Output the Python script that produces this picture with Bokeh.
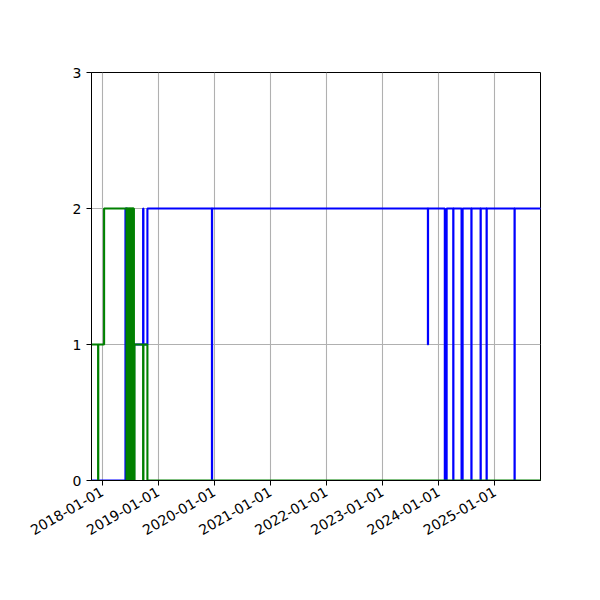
import math
from datetime import datetime
import pandas as pd
from bokeh.plotting import figure
from bokeh.models import Range1d, FixedTicker, DatetimeTickFormatter
from bokeh.embed import file_html
from bokeh.resources import INLINE

# ---- data ----
green_dates = ["2017-10-01", "2017-12-06", "2017-12-07", "2018-01-14",
               "2018-06-09", "2018-06-11", "2018-06-13", "2018-06-15", "2018-06-17",
               "2018-06-19", "2018-06-21", "2018-06-23", "2018-06-25", "2018-06-27",
               "2018-06-29", "2018-07-01", "2018-07-03", "2018-07-05", "2018-07-07",
               "2018-07-09", "2018-07-11", "2018-07-13", "2018-07-15", "2018-07-17",
               "2018-07-19", "2018-07-21", "2018-07-23", "2018-07-25", "2018-07-27",
               "2018-07-31", "2018-09-25", "2018-09-27",
               "2018-10-23", "2025-12-01"]
green_values = [1, 0, 1, 2,
                0, 2, 0, 2, 0,
                2, 0, 2, 0, 2,
                0, 2, 0, 2, 0,
                2, 0, 2, 0, 2,
                0, 2, 0, 2, 0,
                1, 0, 1,
                0, 0]

blue_dates = ["2017-10-01", "2018-06-02", "2018-06-12", "2018-07-28", "2018-09-25",
              "2018-09-27", "2018-10-23", "2019-12-17", "2019-12-18", "2023-10-23",
              "2023-10-24", "2024-02-10", "2024-02-22", "2024-04-05", "2024-04-06",
              "2024-05-29", "2024-06-05", "2024-08-01", "2024-08-02", "2024-09-30",
              "2024-10-01", "2024-11-08", "2024-11-09", "2025-05-09", "2025-05-10",
              "2025-12-01"]
blue_values = [0, 2, 0, 1, 2,
               1, 2, 0, 2, 1,
               2, 0, 2, 0, 2,
               0, 2, 0, 2, 0,
               2, 0, 2, 0, 2,
               2]

tick_labels = ["2018-01-01", "2019-01-01", "2020-01-01", "2021-01-01",
               "2022-01-01", "2023-01-01", "2024-01-01", "2025-01-01"]
y_ticks = [0, 1, 2, 3]
x_start, x_end = "2017-10-24", "2025-10-25"

# ---- figure ----
p = figure(width=592, height=592, x_axis_type="datetime",
           output_backend="svg", toolbar_location=None,
           x_range=Range1d(pd.Timestamp(x_start), pd.Timestamp(x_end)),
           y_range=Range1d(0, 3),
           min_border_left=91, min_border_right=52,
           min_border_top=72, min_border_bottom=112)
p.background_fill_color = "white"
p.border_fill_color = "white"
p.outline_line_color = "black"
p.outline_line_width = 1

p.step(pd.to_datetime(blue_dates), blue_values, mode="after",
       line_color="#0000ff", line_width=2.1)
p.step(pd.to_datetime(green_dates), green_values, mode="after",
       line_color="#008000", line_width=2.1)

tick_ms = [pd.Timestamp(t).value / 1e6 for t in tick_labels]
p.xaxis.ticker = FixedTicker(ticks=tick_ms)
fmt = "%Y-%m-%d"
p.xaxis.formatter = DatetimeTickFormatter(
    years=fmt, months=fmt, days=fmt, hours=fmt, minutes=fmt,
    seconds=fmt, milliseconds=fmt, microseconds=fmt, hourmin=fmt,
    minsec=fmt)
p.xaxis.major_label_orientation = math.pi / 6
p.yaxis.ticker = FixedTicker(ticks=y_ticks)

for ax in (p.xaxis, p.yaxis):
    ax.axis_line_color = "black"
    ax.axis_line_width = 1
    ax.major_tick_line_color = "black"
    ax.major_tick_out = 5
    ax.major_tick_in = 0
    ax.minor_tick_line_color = None
    ax.major_label_text_font = "DejaVu Sans"
    ax.major_label_text_font_size = "14px"
    ax.major_label_text_color = "black"
    ax.major_label_standoff = 5

for g in (p.xgrid, p.ygrid):
    g.grid_line_color = "#b0b0b0"
    g.grid_line_width = 1.1
p.xgrid.ticker = FixedTicker(ticks=tick_ms)
p.ygrid.ticker = FixedTicker(ticks=y_ticks)

open("out.html", "w").write(file_html(p, INLINE))
